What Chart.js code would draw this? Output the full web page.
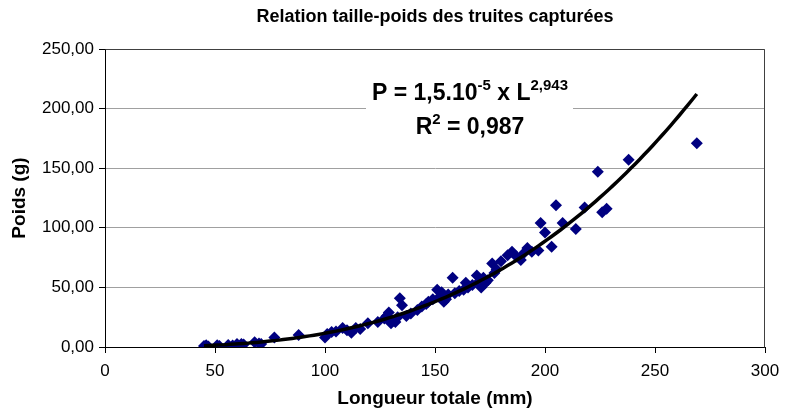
<!DOCTYPE html>
<html>
<head>
<meta charset="utf-8">
<script src="https://cdn.jsdelivr.net/npm/chart.js@4.4.1/dist/chart.umd.min.js"></script>
<style>
  html, body { margin: 0; padding: 0; background: #ffffff; }
  #wrap { width: 796px; height: 412px; }
</style>
</head>
<body>
<div id="wrap"><canvas id="c" width="796" height="412"></canvas></div>
<script>
// ---- Data ----
const longueur = [45, 46, 47, 51, 52, 56, 58, 60, 62, 63, 68, 70, 71, 77, 88,
  100, 101, 103, 105, 108, 110, 112, 114, 116, 119.5, 124, 127, 128, 129, 130,
  131, 132, 133, 134, 135, 137, 139, 142, 144, 146, 147, 149, 151, 152, 153,
  154, 155, 156, 158, 159, 161, 163, 164, 165, 167, 169, 170, 171, 172, 173,
  174, 176, 177, 178, 180, 183, 185, 187, 189, 190, 192, 194, 197, 198, 200,
  203, 205, 208, 214, 218, 224, 226, 228, 238, 269];
const poids = [0.8, 1.5, 0.5, 1.5, 0.8, 1.7, 1.2, 2.5, 2.5, 2.0, 4, 3, 2.5, 8, 10,
  8, 11, 12.6, 13, 16, 14, 12, 16, 15, 20, 21, 24, 26, 29, 20,
  22, 21, 25, 41, 35, 26, 28, 31, 34, 36, 38, 40, 48, 42, 46,
  38, 40, 44, 58, 45, 47, 48, 54, 50, 52, 60, 55, 50, 58, 54,
  56, 70, 62, 65, 72, 77, 80, 76, 73, 78, 83, 80, 81, 104, 96,
  84, 119, 104, 99, 117, 147, 113, 116, 157, 171];

// Power trendline shown on the chart: P = 1,5.10^-5 x L^2,943
const trendCoefA = 1.5e-5;
const trendExpB = 2.943;
const trendRange = [45, 269];

const xTickLabels = ['0', '50', '100', '150', '200', '250', '300'];
const yTickLabels = ['0,00', '50,00', '100,00', '150,00', '200,00', '250,00'];

const titleText = 'Relation taille-poids des truites capturées';
const xTitle = 'Longueur totale (mm)';
const yTitle = 'Poids (g)';
const eqLine1 = [['P = 1,5.10', 0], ['-5', 1], [' x L', 0], ['2,943', 1]];
const eqLine2 = [['R', 0], ['2', 1], [' = 0,987', 0]];

// ---- Build datasets ----
const FONT = '"Liberation Sans", Arial, Helvetica, sans-serif';
const points = longueur.map((l, i) => ({ x: l, y: poids[i] }));
const trend = [];
for (let l = trendRange[0]; l <= trendRange[1]; l += 2) {
  trend.push({ x: l, y: trendCoefA * Math.pow(l, trendExpB) });
}
trend.push({ x: trendRange[1], y: trendCoefA * Math.pow(trendRange[1], trendExpB) });

const framePlugin = {
  id: 'frame',
  beforeDatasetsDraw(chart) {
    const { ctx, chartArea: a } = chart;
    ctx.save();
    ctx.strokeStyle = '#404040';
    ctx.lineWidth = 1;
    ctx.beginPath();
    ctx.moveTo(Math.round(a.left) + 0.5, Math.round(a.top) + 0.5);
    ctx.lineTo(Math.round(a.right) - 0.5, Math.round(a.top) + 0.5);
    ctx.lineTo(Math.round(a.right) - 0.5, Math.round(a.bottom) + 0.5);
    ctx.stroke();
    ctx.restore();
  }
};

function drawRuns(ctx, runs, cx, baseline, size, supSize, rise) {
  const items = runs.map(([t, sup]) => {
    ctx.font = 'bold ' + (sup ? supSize : size) + 'px ' + FONT;
    return { t, sup, w: ctx.measureText(t).width };
  });
  const total = items.reduce((s, r) => s + r.w, 0);
  let x = cx - total / 2;
  items.forEach(r => {
    ctx.font = 'bold ' + (r.sup ? supSize : size) + 'px ' + FONT;
    ctx.fillText(r.t, x, baseline - (r.sup ? rise : 0));
    x += r.w;
  });
}

const equationPlugin = {
  id: 'equation',
  afterDatasetsDraw(chart) {
    const { ctx } = chart;
    ctx.save();
    ctx.fillStyle = '#ffffff';
    ctx.fillRect(366, 72, 207, 72);
    ctx.fillStyle = '#000000';
    ctx.textAlign = 'left';
    ctx.textBaseline = 'alphabetic';
    drawRuns(ctx, eqLine1, 470, 100, 23, 15, 10);
    drawRuns(ctx, eqLine2, 470, 134, 23, 15, 10);
    ctx.restore();
  }
};

new Chart(document.getElementById('c'), {
  type: 'scatter',
  data: {
    datasets: [
      {
        type: 'line',
        data: trend,
        borderColor: '#000000',
        borderWidth: 3.5,
        pointRadius: 0,
        fill: false,
        tension: 0
      },
      {
        data: points,
        pointStyle: 'rectRot',
        pointRadius: 6,
        backgroundColor: '#000080',
        borderColor: '#000080',
        borderWidth: 0
      }
    ]
  },
  options: {
    responsive: false,
    animation: false,
    devicePixelRatio: 1,
    layout: { padding: { left: 0, right: 31, top: 0, bottom: 0 } },
    plugins: {
      legend: { display: false },
      tooltip: { enabled: false },
      title: {
        display: true,
        fullSize: false,
        text: titleText,
        color: '#000000',
        font: { family: FONT, size: 18, weight: 'bold', lineHeight: 1.2 },
        padding: { top: 6, bottom: 21.4 }
      }
    },
    scales: {
      x: {
        type: 'linear',
        min: 0,
        max: 300,
        afterFit(s) { s.height = 65; },
        ticks: {
          stepSize: 50,
          color: '#000000',
          padding: 8,
          font: { family: FONT, size: 17 },
          callback: (v, i) => xTickLabels[i]
        },
        grid: {
          drawOnChartArea: false,
          drawTicks: true,
          tickLength: 6,
          tickColor: '#000000'
        },
        border: { color: '#000000', width: 1 },
        title: {
          display: true,
          text: xTitle,
          color: '#000000',
          font: { family: FONT, size: 19, weight: 'bold', lineHeight: 1.2 },
          padding: { top: 0, bottom: 1.5 }
        }
      },
      y: {
        type: 'linear',
        min: 0,
        max: 250,
        afterFit(s) { s.width = 105; },
        ticks: {
          stepSize: 50,
          color: '#000000',
          padding: 5,
          font: { family: FONT, size: 17 },
          callback: (v, i) => yTickLabels[i]
        },
        grid: {
          color: '#a0a0a0',
          lineWidth: 1,
          drawTicks: true,
          tickLength: 6,
          tickColor: '#000000'
        },
        border: { color: '#000000', width: 1 },
        title: {
          display: true,
          text: yTitle,
          color: '#000000',
          font: { family: FONT, size: 19, weight: 'bold', lineHeight: 1.2 },
          padding: { top: 8.6, bottom: 0 }
        }
      }
    }
  },
  plugins: [framePlugin, equationPlugin]
});
</script>
</body>
</html>
